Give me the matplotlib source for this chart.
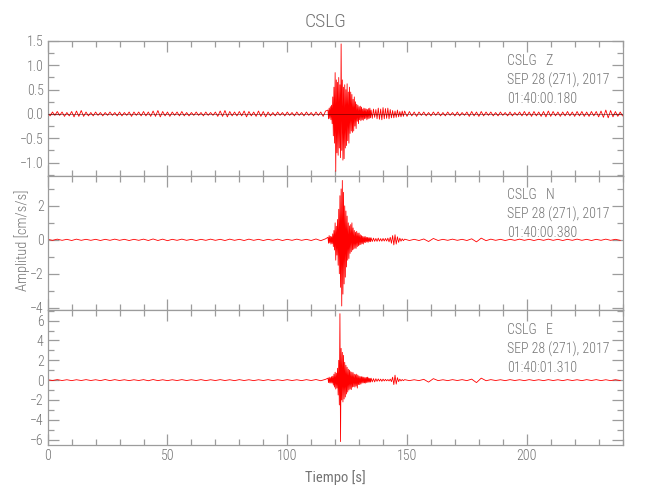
import numpy as np
import matplotlib
matplotlib.use("Agg")
import matplotlib.pyplot as plt
from matplotlib.ticker import MultipleLocator
from matplotlib import font_manager

# ---------------- data ----------------
title = "CSLG"
components = ["Z", "N", "E"]
start_times = ["01:40:00.180", "01:40:00.380", "01:40:01.310"]
date_label = "SEP 28 (271), 2017"

tz_pre = np.arange(0, 117, 1.0)        # 117 samples
tz_post = np.arange(149, 241, 1.0)     # 92 samples
t_pre = np.arange(0, 117, 2.0)         # 59 samples
t_evt = np.arange(117, 135, 0.25)      # 72 samples
t_coda = np.arange(135, 149, 0.5)      # 28 samples
t_post = np.arange(149, 241, 2.0)      # 46 samples

z_pre = [0.03,-0.04,0.04,-0.03,0.05,-0.03,0.04,-0.05,0.03,-0.04,
         0.05,-0.06,0.06,-0.05,0.07,-0.05,0.04,-0.04,0.03,-0.04,
         0.04,-0.03,0.03,-0.04,0.03,-0.03,0.04,-0.03,0.03,-0.04,
         0.04,-0.04,0.03,-0.03,0.04,-0.05,0.04,-0.03,0.04,-0.04,
         0.05,-0.04,0.04,-0.05,0.06,-0.05,0.07,-0.06,0.05,-0.04,
         0.04,-0.05,0.04,-0.03,0.04,-0.04,0.05,-0.04,0.03,-0.04,
         0.03,-0.03,0.04,-0.03,0.03,-0.04,0.04,-0.03,0.03,-0.03,
         0.04,-0.05,0.06,-0.05,0.07,-0.06,0.05,-0.04,0.04,-0.04,
         0.05,-0.04,0.06,-0.06,0.05,-0.04,0.04,-0.05,0.06,-0.05,
         0.05,-0.06,0.04,-0.04,0.03,-0.04,0.04,-0.03,0.03,-0.04,
         0.04,-0.03,0.03,-0.04,0.04,-0.03,0.03,-0.04,0.04,-0.03,
         0.03,-0.04,0.04,-0.03,0.04,-0.05,0.06]
z_evt = [0.08,-0.10,0.12,-0.09, 0.15,-0.12,0.18,-0.20, 0.35,-0.45,0.55,-0.60,
         0.85,-1.18,0.70,-0.80, 0.65,-0.85,0.75,-0.70, 0.60,-0.90,1.44,-0.75,
         0.70,-0.95,0.55,-0.92, 0.60,-0.70,0.50,-0.65, 0.62,-0.55,0.45,-0.60,
         0.55,-0.40,0.45,-0.35, 0.40,-0.38,0.30,-0.35, 0.35,-0.25,0.25,-0.30,
         0.20,-0.15,0.18,-0.20, 0.15,-0.12,0.16,-0.14, 0.14,-0.12,0.10,-0.13,
         0.12,-0.10,0.11,-0.09, 0.10,-0.12,0.09,-0.10, 0.11,-0.09,0.12,-0.08]
z_coda = [0.08,-0.09,0.10,-0.07,0.09,-0.10,0.12,-0.11,0.10,-0.12,0.13,-0.10,
          0.11,-0.09,0.12,-0.10,0.09,-0.08,0.07,-0.08,0.06,-0.07,0.08,-0.06,
          0.05,-0.06,0.06,-0.05]
z_post = [0.06,-0.05,0.05,-0.04,0.04,-0.05,0.04,-0.03,0.04,-0.04,
          0.03,-0.04,0.04,-0.03,0.04,-0.04,0.03,-0.04,0.04,-0.03,
          0.03,-0.04,0.04,-0.04,0.03,-0.03,0.04,-0.05,0.05,-0.04,
          0.04,-0.05,0.05,-0.04,0.04,-0.03,0.04,-0.04,0.03,-0.04,
          0.04,-0.03,0.03,-0.04,0.04,-0.04,0.03,-0.03,0.04,-0.04,
          0.05,-0.04,0.04,-0.05,0.05,-0.04,0.04,-0.05,0.05,-0.06,
          0.06,-0.05,0.05,-0.04,0.04,-0.05,0.04,-0.04,0.05,-0.04,
          0.04,-0.05,0.05,-0.04,0.05,-0.05,0.04,-0.05,0.05,-0.04,
          0.05,-0.06,0.06,-0.07,0.08,-0.08,0.07,-0.06,0.05,-0.05,
          0.04,-0.04]

n_pre = [0.03,-0.03,0.04,-0.03,0.03,-0.04,0.04,-0.03,0.03,-0.03,
         0.03,-0.04,0.03,-0.03,0.04,-0.03,0.03,-0.04,0.03,-0.03,
         0.04,-0.04,0.05,-0.04,0.04,-0.05,0.03,-0.03,0.04,-0.03,
         0.03,-0.04,0.03,-0.03,0.04,-0.03,0.03,-0.04,0.04,-0.03,
         0.03,-0.04,0.04,-0.03,0.03,-0.04,0.03,-0.03,0.04,-0.04,
         0.03,-0.03,0.04,-0.03,0.03,-0.04,0.05,-0.05,0.06]
n_evt = [0.15,-0.20,0.25,-0.18, 0.20,-0.25,0.18,-0.22, 0.35,-0.40,0.55,-0.60,
         1.00,-1.20,0.80,-0.90, 1.20,-1.50,1.80,-2.00, 2.60,-2.80,3.00,-3.90,
         3.50,-3.20,2.80,-2.60, 2.00,-2.20,1.70,-1.60, 1.40,-1.20,1.00,-1.10,
         0.82,-0.80,0.90,-0.70, 1.00,-0.60,0.70,-0.55, 0.55,-0.50,0.45,-0.50,
         0.50,-0.40,0.40,-0.35, 0.40,-0.30,0.30,-0.28, 0.25,-0.22,0.20,-0.25,
         0.18,-0.15,0.20,-0.16, 0.15,-0.12,0.14,-0.15, 0.12,-0.10,0.13,-0.11]
n_coda = [0.12,-0.10,0.10,-0.09,0.08,-0.09,0.10,-0.08,0.07,-0.08,0.08,-0.07,
          0.08,-0.07,0.10,-0.12,0.15,-0.20,0.25,-0.30,0.30,-0.25,
          0.18,-0.15,0.10,-0.08,0.06,-0.05]
n_post = [0.04,-0.04,0.03,-0.04,0.05,-0.10,0.08,-0.04,0.03,-0.03,
          0.04,-0.03,0.03,-0.04,0.06,-0.12,0.10,-0.05,0.04,-0.03,
          0.03,-0.04,0.03,-0.03,0.04,-0.03,0.03,-0.04,0.03,-0.03,
          0.04,-0.03,0.03,-0.04,0.03,-0.03,0.04,-0.03,0.03,-0.04,
          0.03,-0.03,0.04,-0.03,0.03,-0.03]

e_pre = [0.04,-0.04,0.05,-0.04,0.04,-0.05,0.04,-0.04,0.05,-0.04,
         0.04,-0.05,0.06,-0.05,0.05,-0.04,0.04,-0.05,0.04,-0.04,
         0.05,-0.06,0.06,-0.05,0.04,-0.05,0.04,-0.04,0.05,-0.04,
         0.04,-0.04,0.05,-0.05,0.04,-0.04,0.05,-0.04,0.04,-0.05,
         0.05,-0.04,0.04,-0.05,0.04,-0.04,0.05,-0.05,0.04,-0.04,
         0.05,-0.04,0.04,-0.05,0.05,-0.04,0.06,-0.06,0.08]
e_evt = [0.20,-0.25,0.30,-0.28, 0.25,-0.30,0.35,-0.30, 0.40,-0.50,0.60,-0.70,
         0.80,-0.90,0.70,-0.80, 1.20,-1.50,2.00,-2.50, 6.70,-6.20,3.20,-2.00,
         2.80,-2.20,2.50,-1.90, 1.80,-1.70,1.50,-1.40, 1.30,-1.20,1.10,-1.00,
         1.00,-0.90,0.85,-0.95, 0.80,-0.70,0.75,-0.65, 0.60,-0.70,0.55,-0.60,
         0.60,-0.80,0.50,-0.45, 0.40,-0.45,0.35,-0.40, 0.35,-0.30,0.32,-0.28,
         0.30,-0.28,0.25,-0.30, 0.28,-0.25,0.30,-0.22, 0.22,-0.20,0.18,-0.20]
e_coda = [0.20,-0.18,0.15,-0.18,0.14,-0.12,0.12,-0.10,0.10,-0.12,0.10,-0.08,
          0.08,-0.07,0.06,-0.08,0.10,-0.15,0.30,-0.45,0.50,-0.40,
          0.25,-0.15,0.10,-0.08,0.06,-0.05]
e_post = [0.05,-0.05,0.04,-0.05,0.08,-0.20,0.15,-0.05,0.04,-0.05,
          0.05,-0.04,0.05,-0.05,0.10,-0.25,0.20,-0.06,0.05,-0.04,
          0.04,-0.05,0.05,-0.04,0.04,-0.05,0.05,-0.04,0.04,-0.05,
          0.05,-0.04,0.04,-0.05,0.05,-0.04,0.04,-0.05,0.05,-0.04,
          0.05,-0.05,0.04,-0.05,0.04,-0.04]

traces = {
    "Z": ((tz_pre, z_pre), (t_evt, z_evt), (t_coda, z_coda), (tz_post, z_post)),
    "N": ((t_pre, n_pre), (t_evt, n_evt), (t_coda, n_coda), (t_post, n_post)),
    "E": ((t_pre, e_pre), (t_evt, e_evt), (t_coda, e_coda), (t_post, e_post)),
}
ylims = [(-1.27, 1.5), (-4.16, 3.78), (-6.54, 7.04)]
ymajor = [0.5, 2, 2]
yminor = [0.25, 1, 1]
xlim = (0, 240.3)

# ---------------- styling ----------------
available = {f.name for f in font_manager.fontManager.ttflist}
narrow = None
for cand in ["Liberation Sans Narrow", "Roboto Condensed", "Open Sans Condensed"]:
    if cand in available:
        narrow = cand
        break
FONT = [narrow, "DejaVu Sans"] if narrow else ["DejaVu Sans"]
scale = 1.0 if narrow else 0.87
TXT = "#747474"
AXC = "#9c9c9c"
plt.rcParams["font.family"] = FONT
plt.rcParams["font.weight"] = "light"

fig = plt.figure(figsize=(6.5, 5), dpi=100)
left_px, right_px = 47.7, 623.3
tops = [41.0, 175.7, 310.3]
ph = 134.7

axes = []
for i, comp in enumerate(components):
    bottom = 1 - (tops[i] + ph) / 500
    ax = fig.add_axes([left_px / 650, bottom, (right_px - left_px) / 650, ph / 500])
    axes.append(ax)
    tt = np.concatenate([seg[0] for seg in traces[comp]])
    vv = np.concatenate([np.asarray(seg[1], dtype=float) for seg in traces[comp]])
    ax.plot(tt, vv, color="#ff0000", lw=0.6, zorder=2)
    if i == 0:
        ax.axhline(0, color="#400000", lw=0.5, alpha=0.7, zorder=3)
    ax.set_xlim(*xlim)
    ax.set_ylim(*ylims[i])
    ax.xaxis.set_major_locator(MultipleLocator(50))
    ax.xaxis.set_minor_locator(MultipleLocator(10))
    ax.yaxis.set_major_locator(MultipleLocator(ymajor[i]))
    ax.yaxis.set_minor_locator(MultipleLocator(yminor[i]))
    ax.tick_params(which="both", direction="in", top=True, right=True,
                   color=AXC, labelcolor=TXT, labelsize=10 * scale, width=0.9, pad=3)
    ax.tick_params(which="major", length=8)
    ax.tick_params(which="minor", length=4)
    for sp in ax.spines.values():
        sp.set_color(AXC)
        sp.set_linewidth(0.9)
    if i == 0:
        ax.yaxis.set_major_formatter(plt.FuncFormatter(
            lambda v, p: f"{v:.1f}".replace("-", "\u2212")))
    if i < 2:
        ax.tick_params(labelbottom=False)
    ax.text(0.798, 0.905,
            f"CSLG   {comp}\n{date_label}\n{start_times[i]}",
            transform=ax.transAxes, ha="left", va="top",
            fontsize=10 * scale, color=TXT, linespacing=1.38)

axes[2].set_xlabel("Tiempo [s]", fontsize=10.5 * scale, color=TXT, labelpad=5)
fig.text(22 / 650, 1 - 240 / 500, "Amplitud [cm/s/s]", rotation=90, ha="center",
         va="center", fontsize=10.5 * scale, color=TXT)
fig.text(326 / 650, 1 - 22 / 500, title, ha="center", va="center",
         fontsize=14 * scale, color=TXT)

fig.savefig("out.png", dpi=100)
